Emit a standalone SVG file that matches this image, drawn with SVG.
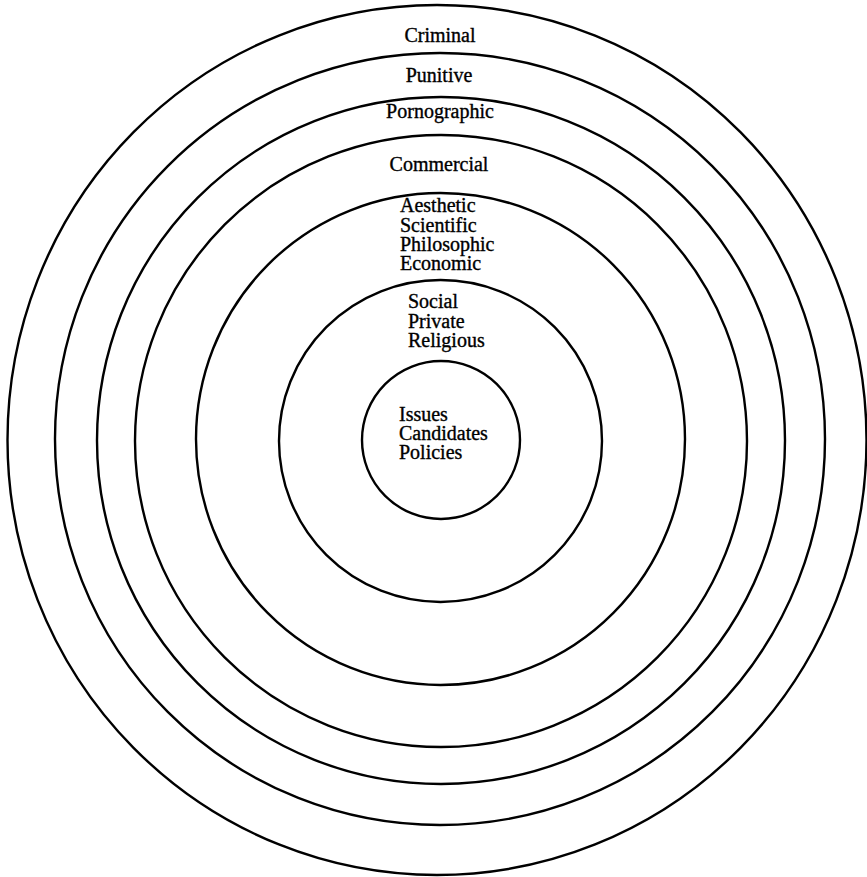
<svg xmlns="http://www.w3.org/2000/svg" width="867" height="877" viewBox="0 0 867 877">
<style>
.ring{fill:none;stroke:#000;stroke-width:2.4}
.lbl{font-family:"Liberation Serif","Times New Roman",serif;font-size:20px;fill:#000;stroke:#000;stroke-width:0.35}
.c{text-anchor:middle}
</style>
<rect width="867" height="877" fill="#fff"/>
<g id="criminal">
<ellipse class="ring" cx="437" cy="440" rx="429.5" ry="435"/>
<text class="lbl c" x="440" y="42">Criminal</text>
</g>
<g id="punitive">
<ellipse class="ring" cx="440" cy="439" rx="385" ry="386"/>
<text class="lbl c" x="439" y="82">Punitive</text>
</g>
<g id="pornographic">
<ellipse class="ring" cx="441" cy="440.5" rx="344" ry="343.5"/>
<text class="lbl c" x="440" y="118">Pornographic</text>
</g>
<g id="commercial">
<ellipse class="ring" cx="441" cy="441" rx="306" ry="306"/>
<text class="lbl c" x="439" y="171">Commercial</text>
</g>
<g id="aesthetic">
<ellipse class="ring" cx="440.5" cy="439" rx="244.5" ry="246"/>
<text class="lbl" x="400" y="212"><tspan x="400" y="212">Aesthetic</tspan><tspan x="400" y="231.5">Scientific</tspan><tspan x="400" y="251">Philosophic</tspan><tspan x="400" y="270">Economic</tspan></text>
</g>
<g id="social">
<ellipse class="ring" cx="440.5" cy="441" rx="161.5" ry="161"/>
<text class="lbl" x="408" y="308"><tspan x="408" y="308">Social</tspan><tspan x="408" y="327.5">Private</tspan><tspan x="408" y="347">Religious</tspan></text>
</g>
<g id="issues">
<ellipse class="ring" cx="441" cy="440" rx="79" ry="79"/>
<text class="lbl" x="399" y="421"><tspan x="399" y="421">Issues</tspan><tspan x="399" y="440">Candidates</tspan><tspan x="399" y="458.5">Policies</tspan></text>
</g>
<g id="connectors"/>
</svg>
